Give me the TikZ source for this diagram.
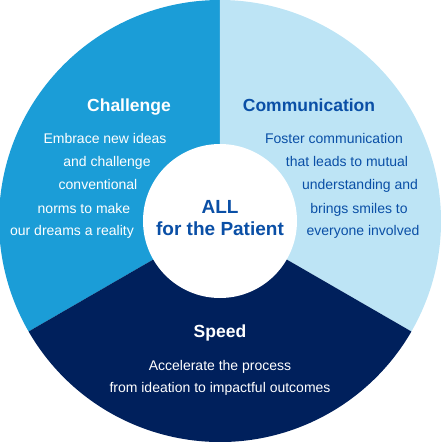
\documentclass[tikz,border=0pt]{standalone}
\usepackage{fontspec}
\setmainfont{Liberation Sans}
\definecolor{chalblue}{HTML}{1B9DD7}
\definecolor{commblue}{HTML}{BDE4F5}
\definecolor{speedblue}{HTML}{00205C}
\definecolor{textblue}{HTML}{0A4FA6}
\begin{document}
\begin{tikzpicture}[x=1pt, y=1pt,
    title/.style={anchor=base, inner sep=0pt, font=\bfseries\fontsize{17.5}{20}\selectfont},
    body/.style={anchor=base, inner sep=0pt, font=\fontsize{14}{16}\selectfont},
    hub/.style={anchor=base, inner sep=0pt, text=textblue, font=\bfseries\fontsize{19}{22}\selectfont}]
    \useasboundingbox (-220,-221) rectangle (220,221);

    % 1. Ba hình quạt
    \fill[chalblue] (0,0) -- (90:221) arc[start angle=90, end angle=210, radius=221] -- cycle;
    \fill[commblue] (0,0) -- (-30:221) arc[start angle=-30, end angle=90, radius=221] -- cycle;
    \fill[speedblue] (0,0) -- (210:221) arc[start angle=210, end angle=330, radius=221] -- cycle;

    % 2. Hình tròn ở giữa
    \fill[white] (0,0) circle (77);
    \node[hub] (all) at (0,8) {ALL};
    \node[hub] (patient) at (0,-15) {for the Patient};

    % 3. Challenge
    \node[title, text=white] (chal) at (-91,109) {Challenge};
    \foreach \txt/\x/\y [count=\i] in {Embrace new ideas/-115/77, and challenge/-113/54,
        conventional/-122/31, norms to make/-136/8, our dreams a reality/-148/-15} {
        \node[body, text=white] (chal\i) at (\x,\y) {\txt};
    }

    % 4. Communication
    \node[title, text=textblue] (comm) at (89,109) {Communication};
    \foreach \txt/\x/\y [count=\i] in {Foster communication/114/77, that leads to mutual/127/54,
        understanding and/140/31, brings smiles to/139/8, everyone involved/143/-15} {
        \node[body, text=textblue] (comm\i) at (\x,\y) {\txt};
    }

    % 5. Speed
    \node[title, text=white] (speed) at (0,-116) {Speed};
    \node[body, text=white] (speed1) at (0,-149) {Accelerate the process};
    \node[body, text=white] (speed2) at (0,-171) {from ideation to impactful outcomes};
\end{tikzpicture}
\end{document}
